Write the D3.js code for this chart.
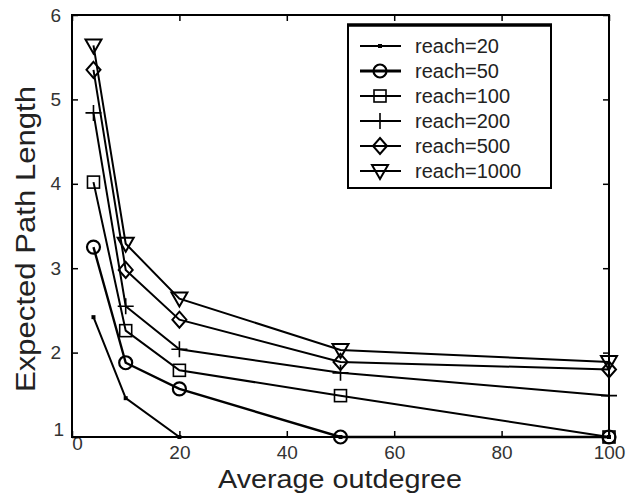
<!DOCTYPE html>
<html><head><meta charset="utf-8">
<script src="https://cdn.jsdelivr.net/npm/d3@7"></script>
<style>body{margin:0;background:#fff}text{font-family:"Liberation Sans",Arial,sans-serif}</style>
</head><body><svg id="c" width="626" height="495"></svg>
<script>
const outdegree = [4, 10, 20, 50, 100];
const reach20 = [2.42, 1.46, 1.0, 1.0, 1.0];
const reach50 = [3.25, 1.88, 1.57, 1.0, 1.0];
const reach100 = [4.02, 2.26, 1.79, 1.49, 1.0];
const reach200 = [4.84, 2.55, 2.04, 1.76, 1.49];
const reach500 = [5.35, 2.98, 2.39, 1.89, 1.80];
const reach1000 = [5.64, 3.29, 2.64, 2.03, 1.89];
const seriesNames = ["reach=20","reach=50","reach=100","reach=200","reach=500","reach=1000"];
const seriesValues = [reach20, reach50, reach100, reach200, reach500, reach1000];
const markers = ["dot","circle","square","plus","diamond","triangle"];
const xTicks = [0,20,40,60,80,100];
const yTicks = [1,2,3,4,5,6];

const svg = d3.select("#c");
const L=72,R=609,T=15,B=437;
const x = d3.scaleLinear().domain([0,100]).range([L,R]);
const y = d3.scaleLinear().domain([1,6]).range([B,T]);
const fmt = d3.format("d");

// axes with inward ticks
const ax = d3.axisBottom(x).tickValues(xTicks).tickFormat(fmt).tickSizeInner(-6).tickSizeOuter(0).tickPadding(9);
const gx = svg.append("g").attr("transform",`translate(0,${B})`).call(ax);
gx.select(".domain").remove();
gx.selectAll("line").attr("stroke","#000").attr("stroke-width",1.5);
gx.selectAll("text").attr("font-size",19).attr("fill","#333");
gx.selectAll(".tick").filter(d=>d===0).select("text").attr("dx",5).attr("dy",4);
const axt = d3.axisTop(x).tickValues(xTicks).tickSizeInner(-6).tickSizeOuter(0).tickFormat("");
const gxt = svg.append("g").attr("transform",`translate(0,${T})`).call(axt);
gxt.select(".domain").remove(); gxt.selectAll("line").attr("stroke","#000").attr("stroke-width",1.5);
const ay = d3.axisLeft(y).tickValues(yTicks).tickFormat(fmt).tickSizeInner(-6).tickSizeOuter(0).tickPadding(11);
const gy = svg.append("g").attr("transform",`translate(${L},0)`).call(ay);
gy.select(".domain").remove();
gy.selectAll("line").attr("stroke","#000").attr("stroke-width",1.5);
gy.selectAll("text").attr("font-size",19).attr("fill","#333");
gy.selectAll(".tick").filter(d=>d===1).select("text").attr("dx",3).attr("dy",-2);
const ayr = d3.axisRight(y).tickValues(yTicks).tickSizeInner(-6).tickSizeOuter(0).tickFormat("");
const gyr = svg.append("g").attr("transform",`translate(${R},0)`).call(ayr);
gyr.select(".domain").remove(); gyr.selectAll("line").attr("stroke","#000").attr("stroke-width",1.5);

svg.append("rect").attr("x",L).attr("y",T).attr("width",R-L).attr("height",B-T)
  .attr("fill","none").attr("stroke","#000").attr("stroke-width",2);

function drawMarker(g, type, cx, cy){
  if(type==="dot") g.append("rect").attr("x",cx-2).attr("y",cy-2).attr("width",4).attr("height",4).attr("fill","#000");
  else if(type==="circle") g.append("circle").attr("cx",cx).attr("cy",cy).attr("r",6.5).attr("fill","none").attr("stroke","#000").attr("stroke-width",2.2);
  else if(type==="square") g.append("rect").attr("x",cx-6).attr("y",cy-6).attr("width",12).attr("height",12).attr("fill","none").attr("stroke","#000").attr("stroke-width",1.6);
  else if(type==="plus") g.append("path").attr("d",`M${cx-8},${cy}H${cx+8}M${cx},${cy-8}V${cy+8}`).attr("stroke","#000").attr("stroke-width",1.6);
  else if(type==="diamond") g.append("path").attr("d",`M${cx},${cy-8}L${cx+7},${cy}L${cx},${cy+8}L${cx-7},${cy}Z`).attr("fill","none").attr("stroke","#000").attr("stroke-width",2);
  else if(type==="triangle") g.append("path").attr("d",`M${cx-8},${cy-6}L${cx+8},${cy-6}L${cx},${cy+8}Z`).attr("fill","none").attr("stroke","#000").attr("stroke-width",2);
}

const line = d3.line().x((d,i)=>x(outdegree[i])).y(d=>y(d));
seriesValues.forEach((vals,si)=>{
  const g = svg.append("g");
  g.append("path").attr("d",line(vals)).attr("fill","none").attr("stroke","#000").attr("stroke-width", si===1?2.4:2);
  vals.forEach((v,i)=>drawMarker(g, markers[si], x(outdegree[i]), y(v)));
});

// legend
const lg = svg.append("g");
lg.append("rect").attr("x",348).attr("y",25).attr("width",203).attr("height",163).attr("fill","#fff").attr("stroke","#000").attr("stroke-width",2);
lg.append("line").attr("x1",347).attr("x2",552).attr("y1",25).attr("y2",25).attr("stroke","#000").attr("stroke-width",3.5);
seriesNames.forEach((n,i)=>{
  const yy = 46 + i*25;
  lg.append("line").attr("x1",360).attr("x2",401).attr("y1",yy).attr("y2",yy).attr("stroke","#000").attr("stroke-width",i===1?3:2);
  drawMarker(lg, markers[i], 380, yy);
  lg.append("text").attr("x",415).attr("y",yy+7).attr("font-size",20).attr("fill","#222").text(n);
});

svg.append("text").attr("x",340).attr("y",488).attr("text-anchor","middle").attr("font-size",26)
  .attr("textLength",244).attr("lengthAdjust","spacingAndGlyphs").attr("fill","#222").text("Average outdegree");
svg.append("text").attr("transform","translate(35,239) rotate(-90)").attr("text-anchor","middle").attr("font-size",27)
  .attr("textLength",306).attr("lengthAdjust","spacingAndGlyphs").attr("fill","#222").text("Expected Path Length");
</script></body></html>
